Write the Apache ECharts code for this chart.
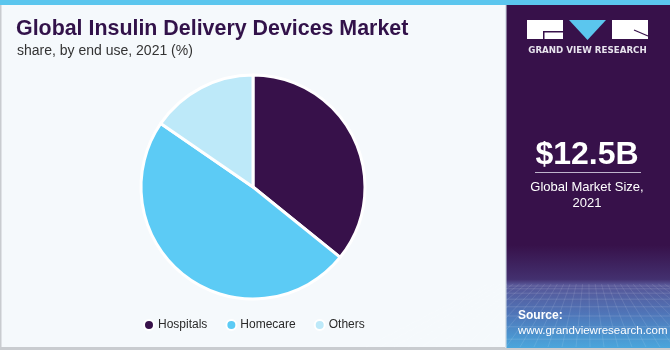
<!DOCTYPE html>
<html>
<head>
<meta charset="utf-8">
<script src="https://cdn.jsdelivr.net/npm/echarts@6/dist/echarts.min.js"></script>
<style>html,body{margin:0;padding:0;background:#f5f9fc;}#c{width:670px;height:350px;}</style>
</head>
<body>
<div id="c"></div>
<script>
const categories = ['Hospitals', 'Homecare', 'Others'];
const shares = [35.8, 48.8, 15.4];
const colors = ['#37114a', '#5ccbf5', '#bde9f9'];

const chart = echarts.init(document.getElementById('c'), null, {renderer: 'canvas'});
const data = categories.map((c, i) => ({name: c, value: shares[i], itemStyle: {color: colors[i]}}));

const gridLines = [];
for (let k = 0; k < 9; k++) {
  const y = 286 + k * k * 0.8 + k * 2;
  if (y < 347) gridLines.push({type: 'line', shape: {x1: 506, y1: y, x2: 670, y2: y},
    style: {stroke: 'rgba(255,255,255,0.13)', lineWidth: 1}, silent: true});
}
for (let k = -10; k <= 20; k++) {
  const xb = 506 + k * 14;
  gridLines.push({type: 'line', shape: {x1: 588 + (xb - 588) * 0.45, y1: 284, x2: xb, y2: 347},
    style: {stroke: 'rgba(255,255,255,0.10)', lineWidth: 1}, silent: true});
}

chart.setOption({
  animation: false,
  backgroundColor: '#f5f9fc',
  title: [
    {text: 'Global Insulin Delivery Devices Market', left: 16, top: 19, padding: 0,
     textStyle: {fontFamily: 'Liberation Sans', fontWeight: 900, fontSize: 21.4, color: '#32124a'}},
    {text: 'share, by end use, 2021 (%)', left: 17, top: 44, padding: 0,
     textStyle: {fontFamily: 'Liberation Sans', fontWeight: 'normal', fontSize: 14, color: '#333'}}
  ],
  legend: {
    left: 143, top: 319, padding: 0, itemGap: 18, itemWidth: 10, itemHeight: 10, icon: 'circle',
    textStyle: {fontFamily: 'Liberation Sans', fontSize: 12, color: '#2a2a2a', padding: [0, 0, 0, -1]},
    data: categories
  },
  graphic: [
    {type: 'rect', shape: {x: 0, y: 0, width: 670, height: 5}, style: {fill: '#5bc6ee'}, z: 0},
    {type: 'rect', shape: {x: 0, y: 5, width: 1.5, height: 345}, style: {fill: '#c9ccd0'}},
    {type: 'rect', shape: {x: 0, y: 347, width: 670, height: 3}, style: {fill: '#c9ccd0'}},
    {type: 'rect', shape: {x: 506, y: 5, width: 164, height: 343},
     style: {fill: {type: 'linear', x: 0, y: 0, x2: 0, y2: 1, colorStops: [
       {offset: 0, color: '#37114a'}, {offset: 0.70, color: '#37114a'}, {offset: 0.80, color: '#43306f'},
       {offset: 0.815, color: '#575596'}, {offset: 0.9, color: '#4f75b8'}, {offset: 1, color: '#4aa6dc'}]}}},
    ...gridLines,
    {type: 'rect', shape: {x: 505, y: 5, width: 1.5, height: 343}, style: {fill: '#d8e2ea'}},
    // logo
    {type: 'rect', shape: {x: 527, y: 20, width: 36, height: 19}, style: {fill: '#ffffff'}},
    {type: 'rect', shape: {x: 543, y: 31, width: 20, height: 1.5}, style: {fill: '#37114a'}},
    {type: 'rect', shape: {x: 543, y: 31, width: 1.5, height: 8}, style: {fill: '#37114a'}},
    {type: 'polygon', shape: {points: [[569, 20], [606, 20], [587.5, 40]]}, style: {fill: '#5bc6ee'}},
    {type: 'rect', shape: {x: 612, y: 20, width: 36, height: 19}, style: {fill: '#ffffff'}},
    {type: 'line', shape: {x1: 634, y1: 30, x2: 648, y2: 36}, style: {stroke: '#37114a', lineWidth: 1.2}},
    {type: 'text', style: {text: 'GRAND VIEW RESEARCH', x: 587.5, y: 51, align: 'center', verticalAlign: 'middle',
      font: 'bold 8.7px "DejaVu Sans"', fill: '#e8e4ee'}},
    // market size
    {type: 'text', style: {text: '$12.5B', x: 587, y: 155, align: 'center', verticalAlign: 'middle',
      font: 'bold 32px "Liberation Sans"', fill: '#ffffff'}},
    {type: 'rect', shape: {x: 535, y: 172, width: 106, height: 1}, style: {fill: '#bfb5cc'}},
    {type: 'text', style: {text: 'Global Market Size,', x: 587, y: 187, align: 'center', verticalAlign: 'middle',
      font: '13px "Liberation Sans"', fill: '#ffffff'}},
    {type: 'text', style: {text: '2021', x: 587, y: 203, align: 'center', verticalAlign: 'middle',
      font: '13px "Liberation Sans"', fill: '#ffffff'}},
    // source
    {type: 'text', style: {text: 'Source:', x: 518, y: 316, align: 'left', verticalAlign: 'middle',
      font: 'bold 12px "Liberation Sans"', fill: '#ffffff'}},
    {type: 'text', style: {text: 'www.grandviewresearch.com', x: 518, y: 331, align: 'left', verticalAlign: 'middle',
      font: '11.5px "Liberation Sans"', fill: '#ffffff'}}
  ],
  series: [{
    type: 'pie',
    center: [253, 187],
    radius: [0, 112],
    startAngle: 90,
    clockwise: true,
    label: {show: false},
    labelLine: {show: false},
    itemStyle: {borderColor: '#ffffff', borderWidth: 3},
    emphasis: {disabled: true},
    data: data
  }]
});
</script>
</body>
</html>
